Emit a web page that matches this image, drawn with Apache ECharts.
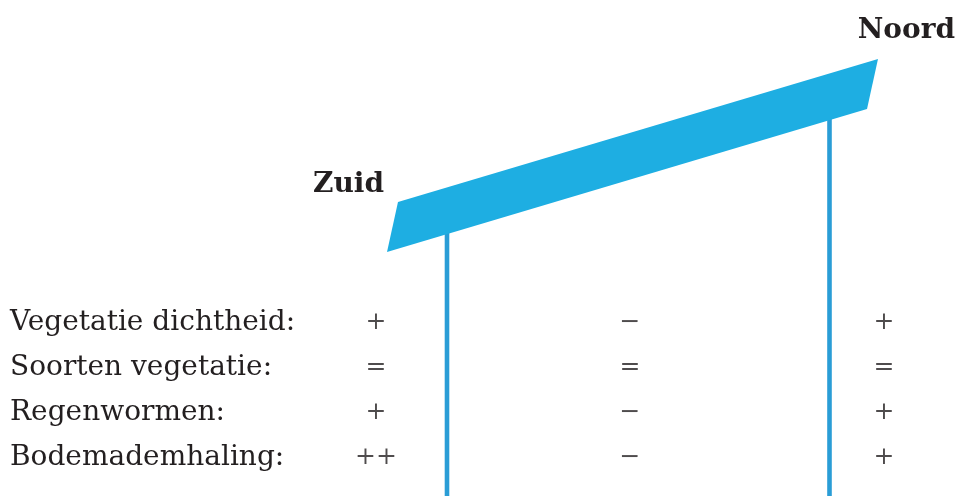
<!DOCTYPE html>
<html>
<head>
<meta charset="utf-8">
<script src="https://cdn.jsdelivr.net/npm/echarts@6/dist/echarts.min.js"></script>
<style>
  html, body { margin: 0; padding: 0; background: #ffffff; }
  #chart { width: 957px; height: 496px; }
</style>
</head>
<body>
<div id="chart"></div>
<script>
// ---- Data ----
var columns = ['Zuid', 'Midden', 'Noord'];
var rows = ['Vegetatie dichtheid:', 'Soorten vegetatie:', 'Regenwormen:', 'Bodemademhaling:'];
var zuidValues = ['+', '=', '+', '++'];
var middenValues = ['\u2212', '=', '\u2212', '\u2212'];
var noordValues = ['+', '=', '+', '+'];
var headerLabels = ['Zuid', 'Noord'];

// Diagram geometry (roof panel corners and posts) in the diagram's own units
var roofCorners = [[398, 202], [878, 59], [867, 109], [387, 252]];
var posts = [[447, 230, 496], [829.5, 100, 496]];

// ---- Build ----
var allValues = [zuidValues, middenValues, noordValues];
var tableData = [];
columns.forEach(function (c, i) {
  rows.forEach(function (r, j) {
    tableData.push([c, r, allValues[i][j]]);
  });
});

var serif = 'DejaVu Serif';
var ink = '#231f20';

var chart = echarts.init(document.getElementById('chart'), null, { renderer: 'canvas' });
chart.setOption({
  animation: false,
  backgroundColor: '#ffffff',
  title: [
    { text: headerLabels[0], left: 313, top: 171, padding: 0,
      textStyle: { fontFamily: serif, fontWeight: 'bold', fontSize: 28, color: ink } },
    { text: headerLabels[1], right: 2, top: 17, padding: 0,
      textStyle: { fontFamily: serif, fontWeight: 'bold', fontSize: 28, color: ink } }
  ],
  grid: [
    { left: 0, top: 0, width: 957, height: 496 },
    { left: 376, top: 300, width: 508, height: 180 }
  ],
  xAxis: [
    { gridIndex: 0, type: 'value', min: 0, max: 957, show: false },
    { gridIndex: 1, type: 'category', data: columns, boundaryGap: false, show: false }
  ],
  yAxis: [
    { gridIndex: 0, type: 'value', min: 0, max: 496, inverse: true, show: false },
    { gridIndex: 1, type: 'category', data: rows, inverse: true,
      axisLine: { show: false }, axisTick: { show: false }, splitLine: { show: false },
      axisLabel: { show: true, align: 'left', margin: 366, fontFamily: serif, fontSize: 28, color: ink } }
  ],
  series: [
    {
      type: 'custom', xAxisIndex: 0, yAxisIndex: 0, clip: false,
      data: posts,
      renderItem: function (params, api) {
        var top = api.coord([api.value(0), api.value(1)]);
        var bottom = api.coord([api.value(0), api.value(2)]);
        return { type: 'rect', shape: { x: top[0] - 2.3, y: top[1], width: 4.6, height: bottom[1] - top[1] },
                 style: { fill: '#2a9dd6' } };
      },
      z: 1
    },
    {
      type: 'custom', xAxisIndex: 0, yAxisIndex: 0, clip: false,
      data: [0],
      renderItem: function (params, api) {
        var pts = roofCorners.map(function (p) { return api.coord(p); });
        return { type: 'polygon', shape: { points: pts }, style: { fill: '#1eaee2' } };
      },
      z: 2
    },
    {
      type: 'scatter', xAxisIndex: 1, yAxisIndex: 1,
      data: tableData,
      symbolSize: 1,
      itemStyle: { color: 'rgba(0,0,0,0)' },
      label: {
        show: true, position: 'inside',
        formatter: function (p) { return p.value[2]; },
        fontFamily: serif, fontSize: 25, color: ink
      },
      z: 3
    }
  ]
});
</script>
</body>
</html>
